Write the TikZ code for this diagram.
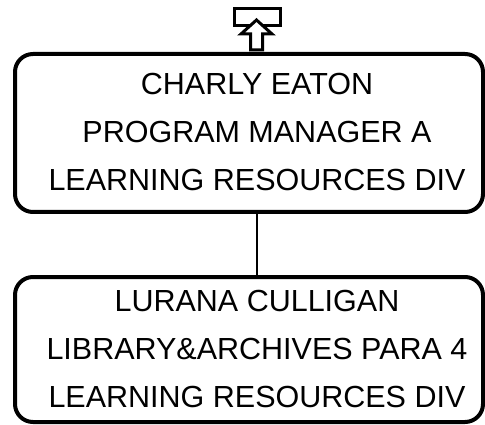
\documentclass[tikz,border=0pt]{standalone}
\usepackage{fontspec}
\setmainfont{Liberation Sans}
\begin{document}
\begin{tikzpicture}[x=1pt,y=-1pt,
  orgbox/.style={draw=black,line width=4pt,rounded corners=18pt,fill=white,inner sep=0pt,minimum width=468pt},
  orgtext/.style={align=center,inner sep=0pt,font=\fontsize{30.5}{48}\selectfont},
  link/.style={draw=black,line width=2pt},
  icon/.style={draw=black,line width=3pt,fill=white,line join=miter}]
\useasboundingbox (0,0) rectangle (485,425);
% top icon
\node[icon,minimum width=46pt,minimum height=17pt,inner sep=0pt] (iconbox) at (257,17.5) {};
\draw[icon] (256.5,20) -- (272,34) -- (262.5,34) -- (262.5,50) -- (250.5,50) -- (250.5,34) -- (241,34) -- cycle;
% boxes
\node[orgbox,minimum height=158pt] (top) at (249,133) {};
\node[orgtext] (toptext) at (257,132) {CHARLY EATON\\PROGRAM MANAGER A\\LEARNING RESOURCES DIV};
\node[orgbox,minimum height=145pt] (bot) at (249,349.5) {};
\node[orgtext] (bottext) at (257,349) {LURANA CULLIGAN\\LIBRARY\&ARCHIVES PARA 4\\LEARNING RESOURCES DIV};
\coordinate (lx) at (256.5,0);
\draw[link] (top.south -| lx) -- (bot.north -| lx);
\end{tikzpicture}
\end{document}
